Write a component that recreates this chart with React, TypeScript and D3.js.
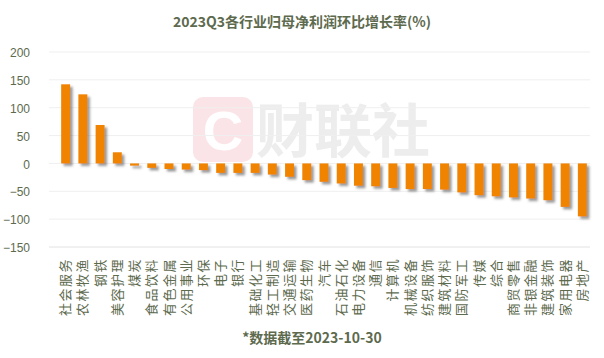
import { useEffect, useRef } from 'react';
import * as d3 from 'd3';

const categories = [
  '社会服务', '农林牧渔', '钢铁', '美容护理', '煤炭', '食品饮料', '有色金属', '公用事业',
  '环保', '电子', '银行', '基础化工', '轻工制造', '交通运输', '医药生物', '汽车',
  '石油石化', '电力设备', '通信', '计算机', '机械设备', '纺织服饰', '建筑材料', '国防军工',
  '传媒', '综合', '商贸零售', '非银金融', '建筑装饰', '家用电器', '房地产',
];

const growth = [
  142, 124, 69, 20, -4, -8, -10, -11,
  -12, -17, -17, -17, -20, -24, -30, -33,
  -36, -40, -41, -44, -46, -46, -47, -52,
  -57, -59, -61, -63, -66, -78, -95,
];

const yTicks = [200, 150, 100, 50, 0, -50, -100, -150];

const title = '2023Q3各行业归母净利润环比增长率(%)';
const footnote = '*数据截至2023-10-30';

const W = 604;
const H = 358;
const textColor = '#5d6a4e';
const font = '"Noto Sans CJK SC", "Noto Sans", sans-serif';

export default function App() {
  const svgRef = useRef<SVGSVGElement>(null);

  useEffect(() => {
    if (!svgRef.current) return;
    const svg = d3.select(svgRef.current);
    svg.selectAll('*').remove();

    const defs = svg.append('defs');
    const f = defs.append('filter').attr('id', 'shadow').attr('x', '-50%').attr('y', '-20%')
      .attr('width', '200%').attr('height', '140%');
    f.append('feDropShadow')
      .attr('dx', 2.5).attr('dy', 2.5).attr('stdDeviation', 1.3)
      .attr('flood-color', '#555').attr('flood-opacity', 0.6);

    const x = d3.scaleBand<string>()
      .domain(categories)
      .range([56, 592])
      .paddingInner(0.48)
      .paddingOuter(0.3);

    const y = d3.scaleLinear().domain([-150, 200]).range([247, 52]);

    // watermark
    const wm = svg.append('g');
    wm.append('rect')
      .attr('x', 193).attr('y', 97).attr('width', 60).attr('height', 65).attr('rx', 10)
      .attr('fill', '#fbe4e7');
    wm.append('text')
      .attr('x', 223).attr('y', 150)
      .attr('text-anchor', 'middle')
      .attr('font-family', 'Arial, sans-serif').attr('font-weight', 'bold').attr('font-size', 56)
      .attr('fill', '#ffffff')
      .text('C');
    wm.append('text')
      .attr('x', 256).attr('y', 152)
      .attr('font-family', font).attr('font-weight', 'bold').attr('font-size', 58)
      .attr('fill', '#ededed')
      .text('财联社');

    // grid
    svg.append('g')
      .selectAll('line')
      .data(yTicks)
      .join('line')
      .attr('x1', 49).attr('x2', 590)
      .attr('y1', d => y(d)).attr('y2', d => y(d))
      .attr('stroke', d => (d === -150 ? '#e2e2e2' : '#efefef'))
      .attr('stroke-width', 1);

    // y labels
    svg.append('g')
      .selectAll('text')
      .data(yTicks)
      .join('text')
      .attr('x', 30)
      .attr('y', d => y(d) + 1)
      .attr('dy', '0.35em')
      .attr('text-anchor', 'end')
      .attr('font-family', 'Arial, sans-serif')
      .attr('font-size', 12)
      .attr('fill', textColor)
      .text(d => (d < 0 ? '\u2212' + Math.abs(d) : String(d)));

    // bars
    svg.append('g')
      .attr('filter', 'url(#shadow)')
      .selectAll('rect')
      .data(categories)
      .join('rect')
      .attr('x', d => x(d) || 0)
      .attr('width', x.bandwidth())
      .attr('y', (d, i) => y(Math.max(0, growth[i])))
      .attr('height', (d, i) => Math.abs(y(growth[i]) - y(0)))
      .attr('fill', '#f08300');

    // category labels
    svg.append('g')
      .selectAll('text')
      .data(categories)
      .join('text')
      .attr('transform', d => `translate(${(x(d) || 0) + x.bandwidth() / 2},258) rotate(-90)`)
      .attr('text-anchor', 'end')
      .attr('dy', '0.35em')
      .attr('font-family', font)
      .attr('font-size', 13)
      .attr('letter-spacing', 1.5)
      .attr('fill', textColor)
      .text(d => d);

    svg.append('text')
      .attr('x', 302).attr('y', 27)
      .attr('text-anchor', 'middle')
      .attr('font-family', font)
      .attr('font-weight', 'bold')
      .attr('font-size', 14)
      .attr('fill', textColor)
      .text(title);

    svg.append('text')
      .attr('x', 312).attr('y', 343)
      .attr('text-anchor', 'middle')
      .attr('font-family', font)
      .attr('font-weight', 'bold')
      .attr('font-size', 14)
      .attr('fill', textColor)
      .text(footnote);
  }, []);

  return (
    <svg
      ref={svgRef}
      width={W}
      height={H}
      style={{ position: 'absolute', left: 0, top: 0, background: '#fff' }}
    />
  );
}
